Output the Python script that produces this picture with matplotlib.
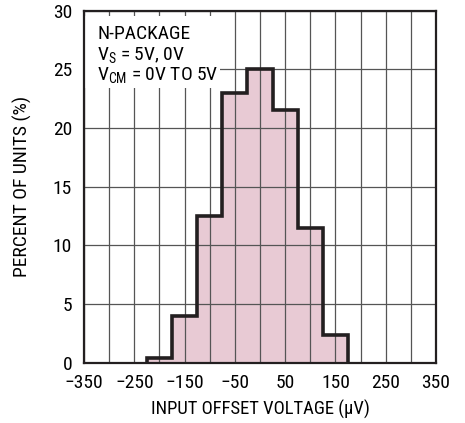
import numpy as np
import matplotlib
matplotlib.use("Agg")
import matplotlib.pyplot as plt
from matplotlib.patches import Rectangle

# datos del histograma (bordes de clase en uV, porcentaje de unidades)
bin_edges = [-225, -175, -125, -75, -25, 25, 75, 125, 175]
percent_units = [0.4, 4.0, 12.5, 23.0, 25.0, 21.5, 11.5, 2.4]
x_ticks = [-350, -250, -150, -50, 50, 150, 250, 350]
y_ticks = [0, 5, 10, 15, 20, 25, 30]

plt.rcParams['font.family'] = ['Roboto Condensed', 'DejaVu Sans']
plt.rcParams['mathtext.fontset'] = 'custom'
plt.rcParams['mathtext.rm'] = 'Roboto Condensed'
plt.rcParams['mathtext.it'] = 'Roboto Condensed'

FS = 14

fig = plt.figure(figsize=(4.65, 4.23), dpi=100)
ax = fig.add_axes([0.1806, 0.1426, 0.7570, 0.8321])

ax.stairs(percent_units, bin_edges, fill=True, color='#e8cad4', zorder=1)
ax.stairs(percent_units, bin_edges, baseline=0, color='#231f20', lw=2.6, zorder=3)

ax.set_xlim(-350, 350)
ax.set_ylim(0, 30)
ax.set_xticks(x_ticks)
ax.set_xticks(np.arange(-300, 351, 100), minor=True)
ax.set_yticks(y_ticks)
ax.set_xticklabels([str(t).replace('-', '\u2212') for t in x_ticks])
ax.set_axisbelow(False)
ax.grid(True, which='both', color='#555555', lw=0.9)
ax.tick_params(which='both', length=0, labelsize=FS)
ax.tick_params(axis='x', pad=8)
ax.tick_params(axis='y', pad=8.5)
for s in ax.spines.values():
    s.set_color('#231f20')
    s.set_linewidth(1.6)
    s.set_zorder(4)

# caja blanca para el texto
ax.add_patch(Rectangle((-350, 23.4), 270, 6.15, facecolor='white', edgecolor='none', zorder=2.7))
ax.text(-323.5, 27.59, 'N-PACKAGE', fontsize=FS, va='baseline', zorder=5)
ax.text(-323.5, 25.8, '$\\mathregular{V_S}$ = 5V, 0V', fontsize=FS, va='baseline', zorder=5)
ax.text(-323.5, 24.09, '$\\mathregular{V_{CM}}$ = 0V TO 5V', fontsize=FS, va='baseline', zorder=5)

ax.set_xlabel('INPUT OFFSET VOLTAGE (\u00b5V)', fontsize=13.4)
ax.set_ylabel('PERCENT OF UNITS (%)', fontsize=FS)
ax.xaxis.set_label_coords(0.5, -0.106)
ax.yaxis.set_label_coords(-0.148, 0.5)

fig.savefig('out.png', dpi=100)
